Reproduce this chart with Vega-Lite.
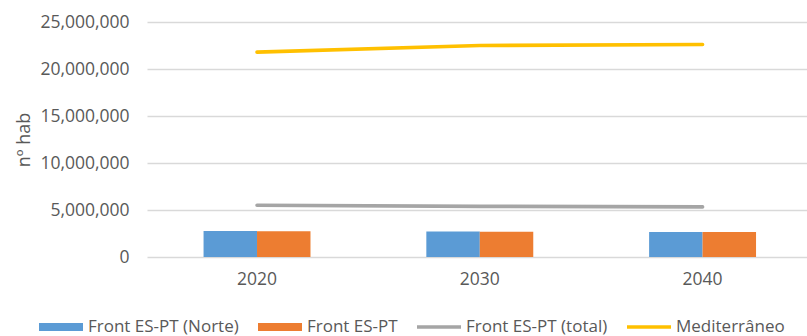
{
  "$schema": "https://vega.github.io/schema/vega-lite/v6.json",
  "width": 660,
  "height": 235,
  "autosize": {"type": "none"},
  "padding": {"left": 147, "top": 22, "right": 0, "bottom": 79},
  "background": "white",
  "config": {
    "view": {"stroke": null},
    "font": "Open Sans",
    "axis": {"labelColor": "#595959", "titleColor": "#595959", "labelFont": "Open Sans", "titleFont": "Open Sans"}
  },
  "data": {
    "values": [
      {"year": "2020", "series": "Front ES-PT (Norte)", "value": 2770000},
      {"year": "2020", "series": "Front ES-PT", "value": 2730000},
      {"year": "2020", "series": "Front ES-PT (total)", "value": 5500000},
      {"year": "2020", "series": "Mediterrâneo", "value": 21800000},
      {"year": "2030", "series": "Front ES-PT (Norte)", "value": 2700000},
      {"year": "2030", "series": "Front ES-PT", "value": 2690000},
      {"year": "2030", "series": "Front ES-PT (total)", "value": 5390000},
      {"year": "2030", "series": "Mediterrâneo", "value": 22500000},
      {"year": "2040", "series": "Front ES-PT (Norte)", "value": 2670000},
      {"year": "2040", "series": "Front ES-PT", "value": 2660000},
      {"year": "2040", "series": "Front ES-PT (total)", "value": 5330000},
      {"year": "2040", "series": "Mediterrâneo", "value": 22600000}
    ]
  },
  "encoding": {
    "x": {
      "field": "year",
      "type": "nominal",
      "scale": {"paddingInner": 0.52, "paddingOuter": 0.2413, "align": 0.526},
      "axis": {
        "title": null,
        "labelAngle": 0,
        "labelFontSize": 17.5,
        "labelPadding": 13,
        "ticks": false,
        "domain": false,
        "grid": false
      }
    },
    "y": {
      "field": "value",
      "type": "quantitative",
      "scale": {"domain": [0, 25000000]},
      "axis": {
        "title": "nº hab",
        "values": [0, 5000000, 10000000, 15000000, 20000000, 25000000],
        "format": ",.0f",
        "labelFontSize": 17.5,
        "labelPadding": 18,
        "ticks": false,
        "domain": false,
        "gridColor": "#d9d9d9",
        "gridWidth": 1.3,
        "titleFontSize": 18,
        "titleFontWeight": "normal",
        "titlePadding": 6
      }
    },
    "color": {
      "field": "series",
      "type": "nominal",
      "scale": {
        "domain": ["Front ES-PT (Norte)", "Front ES-PT", "Front ES-PT (total)", "Mediterrâneo"],
        "range": ["#5B9BD5", "#ED7D31", "#A5A5A5", "#FFC000"]
      },
      "legend": {
        "title": null,
        "orient": "none",
        "legendX": -108,
        "legendY": 283,
        "direction": "horizontal",
        "columns": 4,
        "columnPadding": 19,
        "labelFontSize": 17,
        "labelColor": "#595959",
        "labelFont": "Open Sans",
        "labelOffset": 5,
        "symbolSize": 1936,
        "symbolStrokeWidth": 0,
        "encode": {
          "symbols": {
            "update": {
              "shape": {"signal": "(datum.value === 'Front ES-PT (Norte)' || datum.value === 'Front ES-PT') ? 'M-1,-0.18H1V0.18H-1Z' : 'M-1,-0.08H1V0.08H-1Z'"},
              "fill": {"scale": "color", "field": "value"},
              "strokeWidth": {"value": 0},
              "opacity": {"value": 1}
            }
          }
        }
      }
    }
  },
  "layer": [
    {
      "transform": [{"filter": {"field": "series", "oneOf": ["Front ES-PT (Norte)", "Front ES-PT"]}}],
      "mark": {"type": "bar"},
      "encoding": {
        "xOffset": {
          "field": "series",
          "type": "nominal",
          "scale": {"domain": ["Front ES-PT (Norte)", "Front ES-PT"], "paddingInner": 0, "paddingOuter": 0}
        }
      }
    },
    {
      "transform": [{"filter": {"field": "series", "oneOf": ["Front ES-PT (total)", "Mediterrâneo"]}}],
      "mark": {"type": "line", "strokeWidth": 3.6, "strokeCap": "round"},
      "encoding": {}
    }
  ]
}
